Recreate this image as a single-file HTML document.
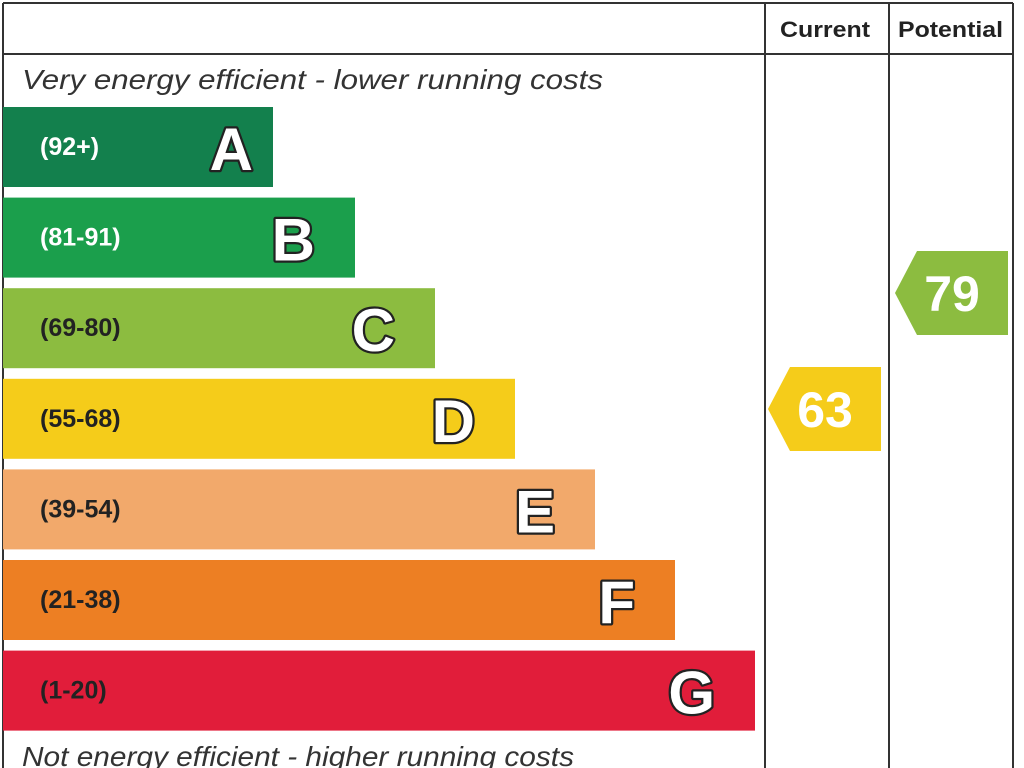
<!DOCTYPE html>
<html><head><meta charset="utf-8">
<style>
body{margin:0;width:1024px;height:768px;background:#fff;overflow:hidden;font-family:"Liberation Sans",sans-serif;}
svg{display:block}
</style></head>
<body>
<svg id="chart" width="1024" height="768"></svg>
<script>
const bandLetters=['A','B','C','D','E','F','G'];
const bandRanges=['(92+)','(81-91)','(69-80)','(55-68)','(39-54)','(21-38)','(1-20)'];
const bandColors=['#13804d','#1b9f4c','#8cbc40','#f5cc1a','#f2a96b','#ed7f23','#e11d3a'];
const bandWhiteRange=[true,true,false,false,false,false,false];
const currentValue=63;
const potentialValue=79;
const currentColor='#f5cc1a';
const potentialColor='#8cbc40';

const NS='http://www.w3.org/2000/svg';
const svg=document.getElementById('chart');
function mk(tag,attrs,parent){const e=document.createElementNS(NS,tag);for(const k in attrs)e.setAttribute(k,attrs[k]);(parent||svg).appendChild(e);return e;}
function bandY(i){return 107+i*90.6;}
function bandW(i){return 270+i*80+(i>0?2:0);}
function letterInset(i){return i===0?20:40;}
function valueY(v){return 409-(v-63)*7.25;}

let e;
e=mk('line',{x1:3,y1:3,x2:1013,y2:3,stroke:'#333','stroke-width':2});


e=mk('line',{x1:3,y1:3,x2:3,y2:768,stroke:'#333','stroke-width':2});


e=mk('line',{x1:3,y1:54,x2:1013,y2:54,stroke:'#333','stroke-width':2});


[765,889,1013].forEach(x=>{
  const l=mk('line',{x1:x,y1:3,x2:x,y2:768,stroke:'#333','stroke-width':2});
  
  
});
e=mk('text',{x:780,y:37,'font-size':22,'font-weight':'bold',fill:'#222',textLength:90,lengthAdjust:'spacingAndGlyphs'});
e.textContent='Current';


e=mk('text',{x:898,y:37,'font-size':22,'font-weight':'bold',fill:'#222',textLength:105,lengthAdjust:'spacingAndGlyphs'});
e.textContent='Potential';


e=mk('text',{x:22,y:89,'font-size':28,'font-style':'italic',fill:'#333',textLength:581,lengthAdjust:'spacingAndGlyphs'});
e.textContent='Very energy efficient - lower running costs';


e=mk('text',{x:22,y:766,'font-size':28,'font-style':'italic',fill:'#333',textLength:552,lengthAdjust:'spacingAndGlyphs'});
e.textContent='Not energy efficient - higher running costs';



bandLetters.forEach((L,i)=>{
  const y=bandY(i),w=bandW(i);
  const r=mk('rect',{x:3,y:y,width:w,height:80,fill:bandColors[i]});
  
  
  const t=mk('text',{x:40,y:y+48,'font-size':25,'font-weight':'bold',fill:bandWhiteRange[i]?'#fff':'#222'});
  t.textContent=bandRanges[i];
  
  
  const lt=mk('text',{x:3+w-letterInset(i),y:y+63,'text-anchor':'end','font-size':60,'font-weight':'bold',fill:'#fff',stroke:'#222','stroke-width':4.5,'paint-order':'stroke','stroke-linejoin':'round'});
  lt.textContent=L;
  
  
});

function indicator(x0,v,color,name){
  const cy=valueY(v);
  const p=mk('polygon',{points:`${x0},${cy} ${x0+22},${cy-42} ${x0+113},${cy-42} ${x0+113},${cy+42} ${x0+22},${cy+42}`,fill:color});
  
  
  const t=mk('text',{x:x0+57,y:cy+18,'text-anchor':'middle','font-size':50,'font-weight':'bold',fill:'#fff'});
  t.textContent=v;
  
  
}
indicator(768,currentValue,currentColor,'current-rating');
indicator(895,potentialValue,potentialColor,'potential-rating');
</script>
</body></html>
